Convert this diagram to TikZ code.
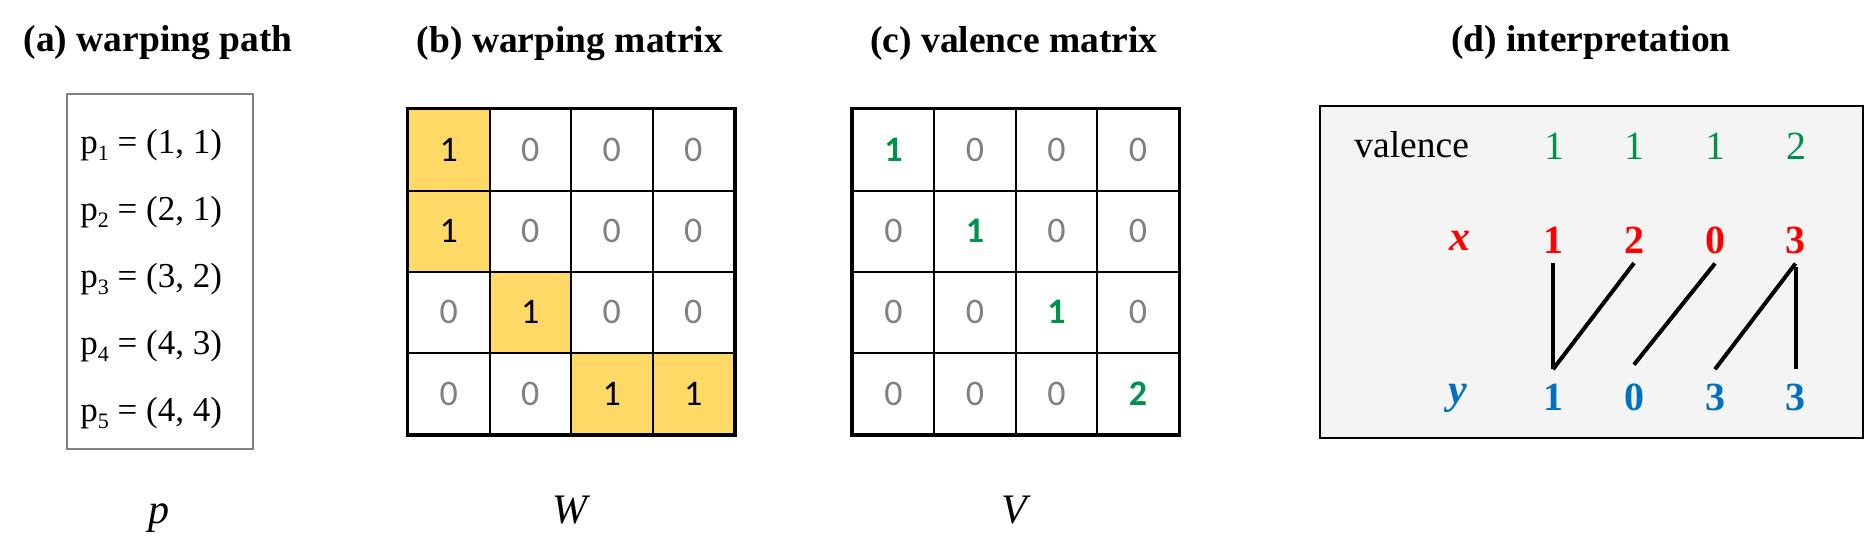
\documentclass[tikz,border=0pt]{standalone}
\usepackage{fontspec}
\setmainfont{Liberation Serif}
\newfontfamily\calfont{Carlito}
\definecolor{cgreen}{RGB}{0,146,76}
\definecolor{cgray}{RGB}{128,128,128}
\definecolor{cyellow}{RGB}{255,217,102}
\definecolor{cred}{RGB}{255,0,0}
\definecolor{cblue}{RGB}{0,112,192}
\definecolor{cpanel}{RGB}{244,244,244}
\newcommand\psub[1]{\raisebox{-3.5pt}{\fontsize{11}{12}\selectfont #1}}
\begin{document}
\begin{tikzpicture}[x=0.5pt,y=-0.5pt,
  title/.style={font=\fontsize{18.75}{22}\selectfont\bfseries, anchor=base, inner sep=0},
  ptext/.style={font=\fontsize{17.5}{20}\selectfont, anchor=base west, inner sep=0},
  cell/.style={draw=black, line width=1pt, minimum width=40.75pt, minimum height=40.6pt, inner sep=0, anchor=north west},
  zero/.style={fill=white, text=cgray, font=\fontsize{18}{20}\selectfont\calfont},
  wone/.style={fill=cyellow, text=black, font=\fontsize{18}{20}\selectfont\calfont},
  vone/.style={fill=white, text=cgreen, font=\fontsize{18}{20}\selectfont\calfont\bfseries},
  dnum/.style={font=\fontsize{20}{22}\selectfont, anchor=base, inner sep=0},
  bnum/.style={font=\fontsize{20}{22}\selectfont\bfseries, anchor=base, inner sep=0},
  lab/.style={font=\fontsize{21}{24}\selectfont\itshape, anchor=base, inner sep=0},
  link/.style={line width=2pt}
]
\useasboundingbox (0,0) rectangle (1865,558);

% titles
\node[title] (ta) at (158,51) {(a) warping path};
\node[title] (tb) at (570,52) {(b) warping matrix};
\node[title] (tc) at (1014,52) {(c) valence matrix};
\node[title] (td) at (1591,51) {(d) interpretation};

% (a) warping path
\node[draw=cgray, line width=1pt, inner sep=0, minimum width=93.3pt, minimum height=177.8pt, anchor=north west] (pbox) at (65.7,92.7) {};
\node[ptext] (p1) at (80,153) {p\psub{1} = (1, 1)};
\node[ptext] (p2) at (80,220) {p\psub{2} = (2, 1)};
\node[ptext] (p3) at (80,287) {p\psub{3} = (3, 2)};
\node[ptext] (p4) at (80,354) {p\psub{4} = (4, 3)};
\node[ptext] (p5) at (80,421) {p\psub{5} = (4, 4)};
\node[lab] (plab) at (159,523) {p};

% (b) warping matrix
\foreach \r/\c/\s/\t in {1/1/wone/1, 1/2/zero/0, 1/3/zero/0, 1/4/zero/0,
                         2/1/wone/1, 2/2/zero/0, 2/3/zero/0, 2/4/zero/0,
                         3/1/zero/0, 3/2/wone/1, 3/3/zero/0, 3/4/zero/0,
                         4/1/zero/0, 4/2/zero/0, 4/3/wone/1, 4/4/wone/1}
  \node[cell,\s] (b\r\c) at ({407+(\c-1)*81.5},{108.3+(\r-1)*81.2}) {\t};
\draw[line width=1.5pt] (b11.north west) rectangle (b44.south east);
\node[lab] (wlab) at (570,523) {W};

% (c) valence matrix
\foreach \r/\c/\s/\t in {1/1/vone/1, 1/2/zero/0, 1/3/zero/0, 1/4/zero/0,
                         2/1/zero/0, 2/2/vone/1, 2/3/zero/0, 2/4/zero/0,
                         3/1/zero/0, 3/2/zero/0, 3/3/vone/1, 3/4/zero/0,
                         4/1/zero/0, 4/2/zero/0, 4/3/zero/0, 4/4/vone/2}
  \node[cell,\s] (c\r\c) at ({851.7+(\c-1)*81.5},{108.3+(\r-1)*81.2}) {\t};
\draw[line width=1.5pt] (c11.north west) rectangle (c44.south east);
\node[lab] (vlab) at (1014.7,523) {V};

% (d) interpretation
\node[draw=black, fill=cpanel, line width=1.2pt, inner sep=0, minimum width=271.4pt, minimum height=165.85pt, anchor=north west] (dbox) at (1318.7,105) {};
\node[font=\fontsize{18.75}{22}\selectfont, anchor=base west, inner sep=0] (val) at (1354,157.3) {valence};
\node[dnum, text=cgreen] (v1) at (1554,159) {1};
\node[dnum, text=cgreen] (v2) at (1634.4,159) {1};
\node[dnum, text=cgreen] (v3) at (1715,159) {1};
\node[dnum, text=cgreen] (v4) at (1796,159) {2};

\node[lab, font=\fontsize{21}{24}\selectfont\bfseries\itshape, text=cred] (xl) at (1459.6,250) {x};
\node[bnum, text=cred] (x1) at (1553,253.3) {1};
\node[bnum, text=cred] (x2) at (1634,253.3) {2};
\node[bnum, text=cred] (x3) at (1715,253.3) {0};
\node[bnum, text=cred] (x4) at (1795.5,253.3) {3};

\node[lab, font=\fontsize{21}{24}\selectfont\bfseries\itshape, text=cblue] (yl) at (1457.5,403) {y};
\node[bnum, text=cblue] (y1) at (1553,410.7) {1};
\node[bnum, text=cblue] (y2) at (1634,410.7) {0};
\node[bnum, text=cblue] (y3) at (1715,410.7) {3};
\node[bnum, text=cblue] (y4) at (1795.5,410.7) {3};

\draw[link] ([yshift=-4.7pt]x1.south) -- ([yshift=7.3pt]y1.north);
\draw[link] ([yshift=-4.7pt]x2.south) -- ([yshift=7.3pt]y1.north);
\draw[link] ([yshift=-4.7pt]x3.south) -- ([yshift=9.5pt]y2.north);
\draw[link] ([yshift=-4.7pt]x4.south) -- ([yshift=7.3pt]y3.north);
\draw[link] ([yshift=-6.7pt]x4.south) -- ([yshift=7.3pt]y4.north);
\end{tikzpicture}
\end{document}
